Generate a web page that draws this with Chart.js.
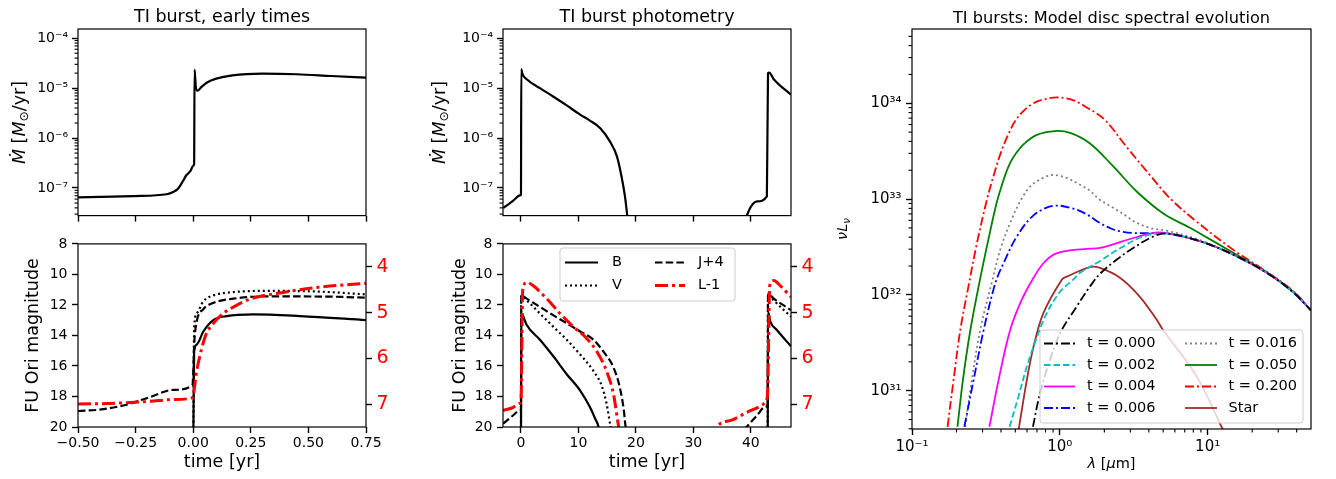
<!DOCTYPE html>
<html>
<head>
<meta charset="utf-8">
<script src="https://cdn.jsdelivr.net/npm/chart.js@4.4.1/dist/chart.umd.min.js"></script>
<style>
body { margin: 0; background: #fff; width: 1336px; height: 479px; overflow: hidden; position: relative; }
canvas { position: absolute; }
</style>
</head>
<body>
<canvas id="c1" style="left:0;top:0" width="380" height="228"></canvas>
<canvas id="c2" style="left:0;top:228px" width="420" height="251"></canvas>
<canvas id="c3" style="left:420px;top:0" width="400" height="228"></canvas>
<canvas id="c4" style="left:420px;top:228px" width="410" height="251"></canvas>
<canvas id="c5" style="left:820px;top:0" width="516" height="479"></canvas>
<script>
// accretion rate, early times
var tEarly = [-0.5, -0.35, -0.26, -0.115, -0.087, -0.065, -0.046, -0.029, -0.011, 0.0, 0.004, 0.006, 0.012, 0.02, 0.035, 0.06, 0.1, 0.17, 0.3, 0.45, 0.6, 0.75];
var mdotEarly = [6.5e-8, 6.7e-8, 6.9e-8, 7.5e-8, 8.3e-8, 9.8e-8, 1.34e-7, 1.82e-7, 2.22e-7, 2.8e-7, 3.0e-7, 2.35e-5, 1.0e-5, 8.9e-6, 1.05e-5, 1.3e-5, 1.55e-5, 1.8e-5, 1.95e-5, 1.9e-5, 1.75e-5, 1.62e-5];

// magnitudes, early times
var tEarlyB = [0.0, 0.004, 0.015, 0.044, 0.087, 0.145, 0.26, 0.464, 0.75];
var magEarlyB = [22, 15.1, 14.6, 13.74, 12.99, 12.73, 12.62, 12.73, 12.99];
var tEarlyV = [0.0, 0.004, 0.015, 0.044, 0.087, 0.174, 0.32, 0.537, 0.75];
var magEarlyV = [22, 13.6, 12.56, 11.76, 11.38, 11.16, 11.08, 11.12, 11.31];
var tEarlyJ = [-0.5, -0.406, -0.29, -0.188, -0.087, -0.003, 0.005, 0.015, 0.044, 0.087, 0.174, 0.32, 0.61, 0.75];
var magEarlyJ = [18.95, 18.86, 18.54, 18.04, 17.57, 17.25, 14.39, 13.1, 12.28, 11.87, 11.59, 11.44, 11.46, 11.53];
var tEarlyL = [-0.5, -0.333, -0.188, -0.087, -0.003, 0.015, 0.037, 0.058, 0.087, 0.13, 0.174, 0.25, 0.39, 0.537, 0.75];
var magEarlyL = [7.0, 6.98, 6.94, 6.90, 6.86, 6.28, 5.78, 5.45, 5.24, 5.02, 4.88, 4.70, 4.56, 4.45, 4.36];

// accretion rate, two bursts
var tLong = [-3.1, -2.2, -1.34, -0.17, 0.0, 0.05, 0.23, 1.0, 3.3, 5.6, 7.96, 10.3, 12.0, 13.8, 15.5, 16.7, 17.5, 18.1, 18.5, 28, 39.3, 40.0, 41.1, 42.8, 43.0, 43.2, 44.0, 47.0];
var mdotLong = [4.0e-8, 4.7e-8, 5.6e-8, 7.1e-8, 7.4e-8, 2.4e-5, 1.95e-5, 1.51e-5, 1.0e-5, 6.8e-6, 4.5e-6, 2.95e-6, 2.24e-6, 1.58e-6, 8.5e-7, 4.3e-7, 1.7e-7, 6.8e-8, 2.8e-8, null, 2.8e-8, 4.2e-8, 5.4e-8, 6.8e-8, 2.0e-5, 2.05e-5, 1.51e-5, 7.4e-6];

// magnitudes, two bursts
var tLongB = [0.0, 0.05, 0.3, 1.0, 3.3, 5.6, 7.96, 10.3, 12.0, 12.9, 13.5, 14.0, 30, 42.95, 43.0, 43.4, 44.5, 47.0];
var magLongB = [21, 12.56, 12.67, 13.31, 14.28, 15.35, 16.54, 17.61, 18.69, 19.44, 19.98, 21, null, 21, 12.45, 13.1, 13.63, 14.71];
var tLongV = [0.0, 0.05, 1.0, 3.3, 5.6, 7.96, 10.3, 12.6, 14.05, 14.9, 15.6, 16.2, 30, 42.95, 43.0, 44.0, 47.0];
var magLongV = [21, 11.38, 11.7, 12.56, 13.42, 14.28, 15.25, 16.32, 17.29, 18.47, 19.98, 21, null, 21, 11.27, 11.7, 12.77];
var tLongJ = [-3.1, -1.34, -0.17, 0.0, 0.05, 1.0, 3.3, 5.6, 7.96, 10.3, 12.6, 14.3, 16.1, 17.2, 17.9, 18.2, 18.6, 30, 38.8, 41.1, 42.5, 42.95, 43.0, 44.0, 47.0];
var magLongJ = [19.78, 19.23, 18.9, 18.85, 11.38, 11.59, 12.13, 12.67, 13.2, 13.74, 14.28, 15.03, 16.1, 17.4, 18.9, 19.98, 21, null, 20.2, 19.23, 18.69, 18.5, 11.27, 11.59, 12.34];
var tLongL = [-3.1, -1.34, -0.17, 0.0, 0.3, 1.0, 2.1, 4.5, 6.8, 9.1, 11.4, 13.2, 14.9, 16.1, 17.0, 17.4, 25, 33.6, 34.1, 36.4, 39.3, 42.2, 42.8, 42.95, 43.3, 44.0, 45.1, 47.0];
var magLongL = [7.14, 7.07, 6.98, 6.95, 4.52, 4.34, 4.41, 4.70, 5.02, 5.31, 5.56, 5.85, 6.28, 6.78, 7.5, 7.8, null, 7.8, 7.5, 7.36, 7.18, 7.0, 6.89, 6.7, 4.41, 4.30, 4.41, 4.66];

// disc spectra
var lamT0 = [0.658, 0.716, 0.817, 1.005, 1.303, 1.585, 1.87, 2.43, 3.14, 4.29, 5.28, 8.87, 14.9, 25.1, 37.8, 50];
var lumT0 = [4.2e30, 7.94e30, 1.66e31, 3.98e31, 7.59e31, 1.20e32, 1.66e32, 2.34e32, 3.09e32, 4.07e32, 4.37e32, 3.63e32, 2.63e32, 1.70e32, 1.07e32, 6.9e31];
var lamT002 = [0.457, 0.525, 0.598, 0.700, 0.817, 1.0, 1.236, 1.371, 1.87, 2.55, 3.67, 5.28, 8.87, 14.9, 25.1, 37.8, 50];
var lumT002 = [4.2e30, 8.7e30, 1.78e31, 3.63e31, 6.46e31, 1.07e32, 1.45e32, 1.70e32, 2.26e32, 3.06e32, 4.07e32, 4.37e32, 3.63e32, 2.63e32, 1.70e32, 1.07e32, 6.9e31];
var lamT004 = [0.334, 0.385, 0.461, 0.553, 0.664, 0.774, 0.906, 1.114, 1.52, 1.87, 2.55, 4.07, 5.28, 8.87, 14.9, 25.1, 37.8, 50];
var lumT004 = [4.2e30, 1.29e31, 4.27e31, 8.9e31, 1.51e32, 2.14e32, 2.63e32, 2.88e32, 3.02e32, 3.09e32, 3.55e32, 4.37e32, 4.42e32, 3.63e32, 2.63e32, 1.70e32, 1.07e32, 6.9e31];
var lamT006 = [0.226, 0.261, 0.305, 0.366, 0.416, 0.512, 0.664, 0.906, 1.236, 1.52, 1.87, 2.24, 2.55, 3.14, 4.07, 5.28, 8.87, 14.9, 25.1, 37.8, 50];
var lumT006 = [4.2e30, 1.29e31, 4.27e31, 1.32e32, 2.14e32, 4.07e32, 6.76e32, 8.5e32, 7.94e32, 6.92e32, 5.62e32, 4.9e32, 4.62e32, 4.42e32, 4.42e32, 4.37e32, 3.63e32, 2.63e32, 1.70e32, 1.07e32, 6.9e31];
var lamT016 = [0.229, 0.254, 0.289, 0.348, 0.395, 0.461, 0.55, 0.664, 0.929, 1.52, 1.87, 2.30, 2.84, 3.14, 4.07, 5.28, 8.87, 14.9, 25.1, 37.8, 50];
var lumT016 = [4.2e30, 1.29e31, 4.27e31, 1.38e32, 2.95e32, 5.62e32, 1.0e33, 1.45e33, 1.78e33, 1.29e33, 9.8e32, 8.1e32, 6.6e32, 5.9e32, 5.0e32, 4.68e32, 3.72e32, 2.63e32, 1.70e32, 1.07e32, 6.9e31];
var lamT050 = [0.203, 0.221, 0.248, 0.285, 0.331, 0.375, 0.416, 0.447, 0.486, 0.568, 0.700, 0.929, 1.175, 1.60, 2.30, 3.31, 5.01, 7.59, 8.87, 14.9, 25.1, 37.8, 50];
var lumT050 = [4.2e30, 1.29e31, 4.27e31, 1.32e32, 3.98e32, 9.3e32, 1.58e33, 2.14e33, 2.75e33, 3.72e33, 4.68e33, 5.13e33, 4.9e33, 3.8e33, 2.19e33, 1.20e33, 7.08e32, 5.01e32, 4.37e32, 2.75e32, 1.72e32, 1.08e32, 6.9e31];
var lamT200 = [0.174, 0.191, 0.212, 0.241, 0.275, 0.321, 0.356, 0.398, 0.447, 0.501, 0.569, 0.646, 0.736, 0.955, 1.24, 1.51, 2.0, 2.84, 4.07, 5.56, 8.0, 14.9, 25.1, 37.8, 50];
var lumT200 = [4.2e30, 1.29e31, 4.27e31, 1.23e32, 3.47e32, 9.8e32, 1.74e33, 3.02e33, 4.68e33, 6.61e33, 8.32e33, 9.77e33, 1.07e34, 1.15e34, 1.07e34, 9.1e33, 6.8e33, 3.47e33, 1.78e33, 1.02e33, 6.2e32, 2.95e32, 1.74e32, 1.10e32, 6.9e31];
var lamStar = [0.526, 0.598, 0.664, 0.774, 1.033, 1.114, 1.60, 1.87, 2.55, 3.48, 4.52, 5.01, 8.43, 12.7];
var lumStar = [3.9e30, 1.29e31, 2.88e31, 6.46e31, 1.45e32, 1.55e32, 1.95e32, 1.91e32, 1.51e32, 9.55e31, 5.5e31, 4.27e31, 1.41e31, 3.9e30];

// tick values
var earlyTicks = [-0.5, -0.25, 0, 0.25, 0.5, 0.75];
var longTicks = [0, 10, 20, 30, 40];
var mdotTicks = [1e-7, 1e-6, 1e-5, 1e-4];
var magTicks = [8, 10, 12, 14, 16, 18, 20];
var lMagTicks = [4, 5, 6, 7];
var lamTicks = [0.1, 1, 10];
var lumTicks = [1e31, 1e32, 1e33, 1e34];

Chart.defaults.font.family = '"DejaVu Sans", sans-serif';
Chart.defaults.font.size = 14;
Chart.defaults.color = '#000';

var SUP = {'-': '\u207b', '0': '\u2070', '1': '\u00b9', '2': '\u00b2', '3': '\u00b3', '4': '\u2074', '5': '\u2075', '6': '\u2076', '7': '\u2077', '8': '\u2078', '9': '\u2079'};
function pow10Label(v) {
    var e = String(Math.round(Math.log10(v)));
    return '10' + e.split('').map(function(c) { return SUP[c]; }).join('');
}
function signed2(v) {
    return (v < 0 ? '\u2212' : '') + Math.abs(v).toFixed(2);
}
function pts(xs, ys) {
    return xs.map(function(x, i) { return {x: x, y: ys[i]}; });
}

function axis(type, position, min, max, ticks, size, tickOpts) {
    var t = Object.assign({autoSkip: false, maxRotation: 0, padding: 4}, tickOpts || {});
    return {
        type: type, position: position, min: min, max: max,
        grid: {drawOnChartArea: false, drawTicks: true, tickLength: 6, tickWidth: 1.4, tickColor: '#000'},
        border: {display: false},
        ticks: t,
        afterBuildTicks: function(s) { s.ticks = ticks.map(function(v) { return {value: v}; }); },
        afterFit: function(s) { if (s.isHorizontal()) s.height = size; else s.width = size; }
    };
}

function drawRich(ctx, r) {
    function font(p) { return (p.it ? 'italic ' : '') + (p.sub ? r.size * 0.7 : r.size) + 'px "DejaVu Sans"'; }
    var w = 0;
    r.parts.forEach(function(p) { ctx.font = font(p); w += ctx.measureText(p.t).width; });
    ctx.save();
    ctx.translate(r.x, r.y);
    ctx.rotate(r.rot || 0);
    ctx.fillStyle = '#000';
    ctx.textBaseline = 'middle';
    ctx.textAlign = 'left';
    var x = -w / 2;
    r.parts.forEach(function(p) {
        ctx.font = font(p);
        ctx.fillText(p.t, x, p.sub ? r.size * 0.28 : 0);
        x += ctx.measureText(p.t).width;
    });
    ctx.restore();
}

function drawLegend(chart, L) {
    var ctx = chart.ctx;
    ctx.save();
    ctx.beginPath();
    if (ctx.roundRect) ctx.roundRect(L.box[0], L.box[1], L.box[2], L.box[3], 3);
    else ctx.rect(L.box[0], L.box[1], L.box[2], L.box[3]);
    ctx.fillStyle = 'rgba(255,255,255,0.8)';
    ctx.fill();
    ctx.strokeStyle = '#cccccc';
    ctx.lineWidth = 1;
    ctx.stroke();
    L.items.forEach(function(it) {
        var ds = chart.data.datasets[it.ds];
        ctx.strokeStyle = ds.borderColor;
        ctx.lineWidth = ds.borderWidth;
        ctx.setLineDash(ds.borderDash || []);
        ctx.beginPath();
        ctx.moveTo(it.x1, it.y);
        ctx.lineTo(it.x2, it.y);
        ctx.stroke();
        ctx.setLineDash([]);
        ctx.fillStyle = '#000';
        ctx.font = L.font;
        ctx.textBaseline = 'middle';
        ctx.textAlign = 'left';
        ctx.fillText(ds.label, it.tx, it.y);
    });
    ctx.restore();
}

function deco(cfg) {
    return {
        id: 'deco',
        afterDraw: function(chart) {
            var ctx = chart.ctx, a = chart.chartArea;
            ctx.save();
            ctx.strokeStyle = '#000';
            ctx.lineWidth = 1.1;
            (cfg.minor || []).forEach(function(m) {
                var s = chart.scales[m.axis];
                var lo = Math.floor(Math.log10(s.min)), hi = Math.ceil(Math.log10(s.max));
                for (var e = lo; e <= hi; e++) {
                    for (var k = 2; k < 10; k++) {
                        var v = k * Math.pow(10, e);
                        if (v <= s.min || v >= s.max) continue;
                        var p = s.getPixelForValue(v);
                        ctx.beginPath();
                        if (m.side == 'left') { ctx.moveTo(a.left, p); ctx.lineTo(a.left - 3.5, p); }
                        else { ctx.moveTo(p, a.bottom); ctx.lineTo(p, a.bottom + 3.5); }
                        ctx.stroke();
                    }
                }
            });
            ctx.lineWidth = 1.2;
            ctx.strokeRect(a.left, a.top, a.right - a.left, a.bottom - a.top);
            if (cfg.title) {
                ctx.fillStyle = '#000';
                ctx.font = cfg.titleSize + 'px "DejaVu Sans"';
                ctx.textAlign = 'center';
                ctx.textBaseline = 'alphabetic';
                ctx.fillText(cfg.title, (a.left + a.right) / 2, cfg.titleY);
            }
            (cfg.rich || []).forEach(function(r) { drawRich(ctx, r); });
            if (cfg.legend) drawLegend(chart, cfg.legend);
            ctx.restore();
        }
    };
}

function baseOptions(padding, scales, lineOpts) {
    return {
        responsive: false, animation: false, devicePixelRatio: 1,
        layout: {padding: padding},
        elements: {point: {radius: 0}, line: lineOpts || {cubicInterpolationMode: 'monotone', fill: false}},
        plugins: {legend: {display: false}, tooltip: {enabled: false}},
        scales: scales
    };
}

function mdotLabel(x) {
    return {x: x, y: 122.5, rot: -Math.PI / 2, size: 17.5, parts: [
        {t: '\u1e40', it: true}, {t: ' ['}, {t: 'M', it: true}, {t: '\u2299', sub: true}, {t: '/yr]'}]};
}

var noLabel = {callback: function() { return ''; }};
var axisTitleFont = {size: 17.5};

// panel 1
new Chart(document.getElementById('c1'), {
    type: 'line',
    data: {datasets: [{data: pts(tEarly, mdotEarly), borderColor: '#000', borderWidth: 2.2, clip: 0}]},
    options: baseOptions({top: 29, right: 14, left: 0, bottom: 0}, {
        x: axis('linear', 'bottom', -0.5, 0.75, earlyTicks, 12, noLabel),
        y: axis('logarithmic', 'left', 2.8e-8, 1.53e-4, mdotTicks, 78, {padding: 4, callback: pow10Label})
    }),
    plugins: [deco({title: 'TI burst, early times', titleSize: 17.5, titleY: 22, minor: [{axis: 'y', side: 'left'}], rich: [mdotLabel(20)]})]
});

// panel 2
var x2 = axis('linear', 'bottom', -0.5, 0.75, earlyTicks, 52, {padding: 2, callback: signed2});
x2.title = {display: true, text: 'time [yr]', font: axisTitleFont, padding: {top: 0, bottom: 6.5}};
var y2 = axis('linear', 'left', 8, 20, magTicks, 78, {padding: 4.5});
y2.reverse = true;
y2.title = {display: true, text: 'FU Ori magnitude', font: axisTitleFont, padding: {top: 23, bottom: 0}};
var r2 = axis('linear', 'right', 3.5, 7.5, lMagTicks, 54, {padding: 4.5, color: '#ff0000', font: {size: 19}});
r2.reverse = true;
new Chart(document.getElementById('c2'), {
    type: 'line',
    data: {datasets: [
        {label: 'L-1', data: pts(tEarlyL, magEarlyL), yAxisID: 'y2', borderColor: '#ff0000', borderWidth: 3, borderDash: [13, 4, 3, 4], clip: 0},
        {label: 'B', data: pts(tEarlyB, magEarlyB), borderColor: '#000', borderWidth: 2.2, clip: 0},
        {label: 'V', data: pts(tEarlyV, magEarlyV), borderColor: '#000', borderWidth: 2.2, borderDash: [2, 3], clip: 0},
        {label: 'J+4', data: pts(tEarlyJ, magEarlyJ), borderColor: '#000', borderWidth: 2.2, borderDash: [7.5, 3.2], clip: 0}
    ]},
    options: baseOptions({top: 13, right: 0, left: 0, bottom: 0}, {x: x2, y: y2, y2: r2}),
    plugins: [deco({})]
});

// panel 3
new Chart(document.getElementById('c3'), {
    type: 'line',
    data: {datasets: [{data: pts(tLong, mdotLong), borderColor: '#000', borderWidth: 2.2, clip: 0}]},
    options: baseOptions({top: 29, right: 29, left: 0, bottom: 0}, {
        x: axis('linear', 'bottom', -3.13, 47.0, longTicks, 12, noLabel),
        y: axis('logarithmic', 'left', 2.8e-8, 1.53e-4, mdotTicks, 83, {padding: 4, callback: pow10Label})
    }),
    plugins: [deco({title: 'TI burst photometry', titleSize: 17.5, titleY: 22, minor: [{axis: 'y', side: 'left'}], rich: [mdotLabel(20)]})]
});

// panel 4
var x4 = axis('linear', 'bottom', -3.13, 47.0, longTicks, 52, {padding: 2});
x4.title = {display: true, text: 'time [yr]', font: axisTitleFont, padding: {top: 0, bottom: 6.5}};
var y4 = axis('linear', 'left', 8, 20, magTicks, 83, {padding: 4.5});
y4.reverse = true;
y4.title = {display: true, text: 'FU Ori magnitude', font: axisTitleFont, padding: {top: 29.5, bottom: 0}};
var r4 = axis('linear', 'right', 3.5, 7.5, lMagTicks, 39, {padding: 4.5, color: '#ff0000', font: {size: 19}});
r4.reverse = true;
new Chart(document.getElementById('c4'), {
    type: 'line',
    data: {datasets: [
        {label: 'L-1', data: pts(tLongL, magLongL), yAxisID: 'y2', borderColor: '#ff0000', borderWidth: 3, borderDash: [13, 4, 3, 4], clip: 0},
        {label: 'B', data: pts(tLongB, magLongB), borderColor: '#000', borderWidth: 2.2, clip: 0},
        {label: 'V', data: pts(tLongV, magLongV), borderColor: '#000', borderWidth: 2.2, borderDash: [2, 3], clip: 0},
        {label: 'J+4', data: pts(tLongJ, magLongJ), borderColor: '#000', borderWidth: 2.2, borderDash: [7.5, 3.2], clip: 0}
    ]},
    options: baseOptions({top: 13, right: 0, left: 0, bottom: 0}, {x: x4, y: y4, y2: r4}),
    plugins: [deco({legend: {box: [140, 20, 175, 53], font: '14.5px "DejaVu Sans"', items: [
        {ds: 1, x1: 145, x2: 178, tx: 192, y: 34.5},
        {ds: 2, x1: 145, x2: 178, tx: 192, y: 57.5},
        {ds: 3, x1: 235, x2: 265, tx: 278, y: 34.5},
        {ds: 0, x1: 235, x2: 265, tx: 278, y: 57.5}
    ]}})]
});

// panel 5
var dashDot = [9, 3, 2, 3];
new Chart(document.getElementById('c5'), {
    type: 'line',
    data: {datasets: [
        {label: 't = 0.000', data: pts(lamT0, lumT0), borderColor: '#000000', borderWidth: 1.8, borderDash: dashDot, clip: 0},
        {label: 't = 0.002', data: pts(lamT002, lumT002), borderColor: '#00bfbf', borderWidth: 1.8, borderDash: [6.5, 3], clip: 0},
        {label: 't = 0.004', data: pts(lamT004, lumT004), borderColor: '#ff00ff', borderWidth: 1.8, clip: 0},
        {label: 't = 0.006', data: pts(lamT006, lumT006), borderColor: '#0000ff', borderWidth: 1.8, borderDash: dashDot, clip: 0},
        {label: 't = 0.016', data: pts(lamT016, lumT016), borderColor: '#808080', borderWidth: 1.8, borderDash: [2, 3], clip: 0},
        {label: 't = 0.050', data: pts(lamT050, lumT050), borderColor: '#008000', borderWidth: 1.8, clip: 0},
        {label: 't = 0.200', data: pts(lamT200, lumT200), borderColor: '#ff0000', borderWidth: 1.8, borderDash: dashDot, clip: 0},
        {label: 'Star', data: pts(lamStar, lumStar), borderColor: '#a52a2a', borderWidth: 1.8, clip: 0}
    ]},
    options: baseOptions({top: 29, right: 25, left: 0, bottom: 0}, {
        x: axis('logarithmic', 'bottom', 0.1, 50, lamTicks, 50, {padding: 3.5, font: {size: 15}, callback: pow10Label}),
        y: axis('logarithmic', 'left', 3.98e30, 5.96e34, lumTicks, 92, {padding: 4.5, font: {size: 15}, callback: pow10Label})
    }, {tension: 0.35, fill: false}),
    plugins: [deco({
        title: 'TI bursts: Model disc spectral evolution', titleSize: 16.2, titleY: 22.5,
        minor: [{axis: 'y', side: 'left'}, {axis: 'x', side: 'bottom'}],
        rich: [
            {x: 23, y: 229, rot: -Math.PI / 2, size: 14.5, parts: [{t: '\u03bd', it: true}, {t: 'L', it: true}, {t: '\u03bd', it: true, sub: true}]},
            {x: 291.5, y: 464, size: 14.5, parts: [{t: '\u03bb', it: true}, {t: ' ['}, {t: '\u03bc', it: true}, {t: 'm]'}]}
        ],
        legend: {box: [220, 330, 263, 93], font: '14.5px "DejaVu Sans"', items: [
            {ds: 0, x1: 224, x2: 255, tx: 267, y: 343.5},
            {ds: 1, x1: 224, x2: 255, tx: 267, y: 365},
            {ds: 2, x1: 224, x2: 255, tx: 267, y: 386.5},
            {ds: 3, x1: 224, x2: 255, tx: 267, y: 408},
            {ds: 4, x1: 365, x2: 397, tx: 408.5, y: 343.5},
            {ds: 5, x1: 365, x2: 397, tx: 408.5, y: 365},
            {ds: 6, x1: 365, x2: 397, tx: 408.5, y: 386.5},
            {ds: 7, x1: 365, x2: 397, tx: 408.5, y: 408}
        ]}
    })]
});
</script>
</body>
</html>
